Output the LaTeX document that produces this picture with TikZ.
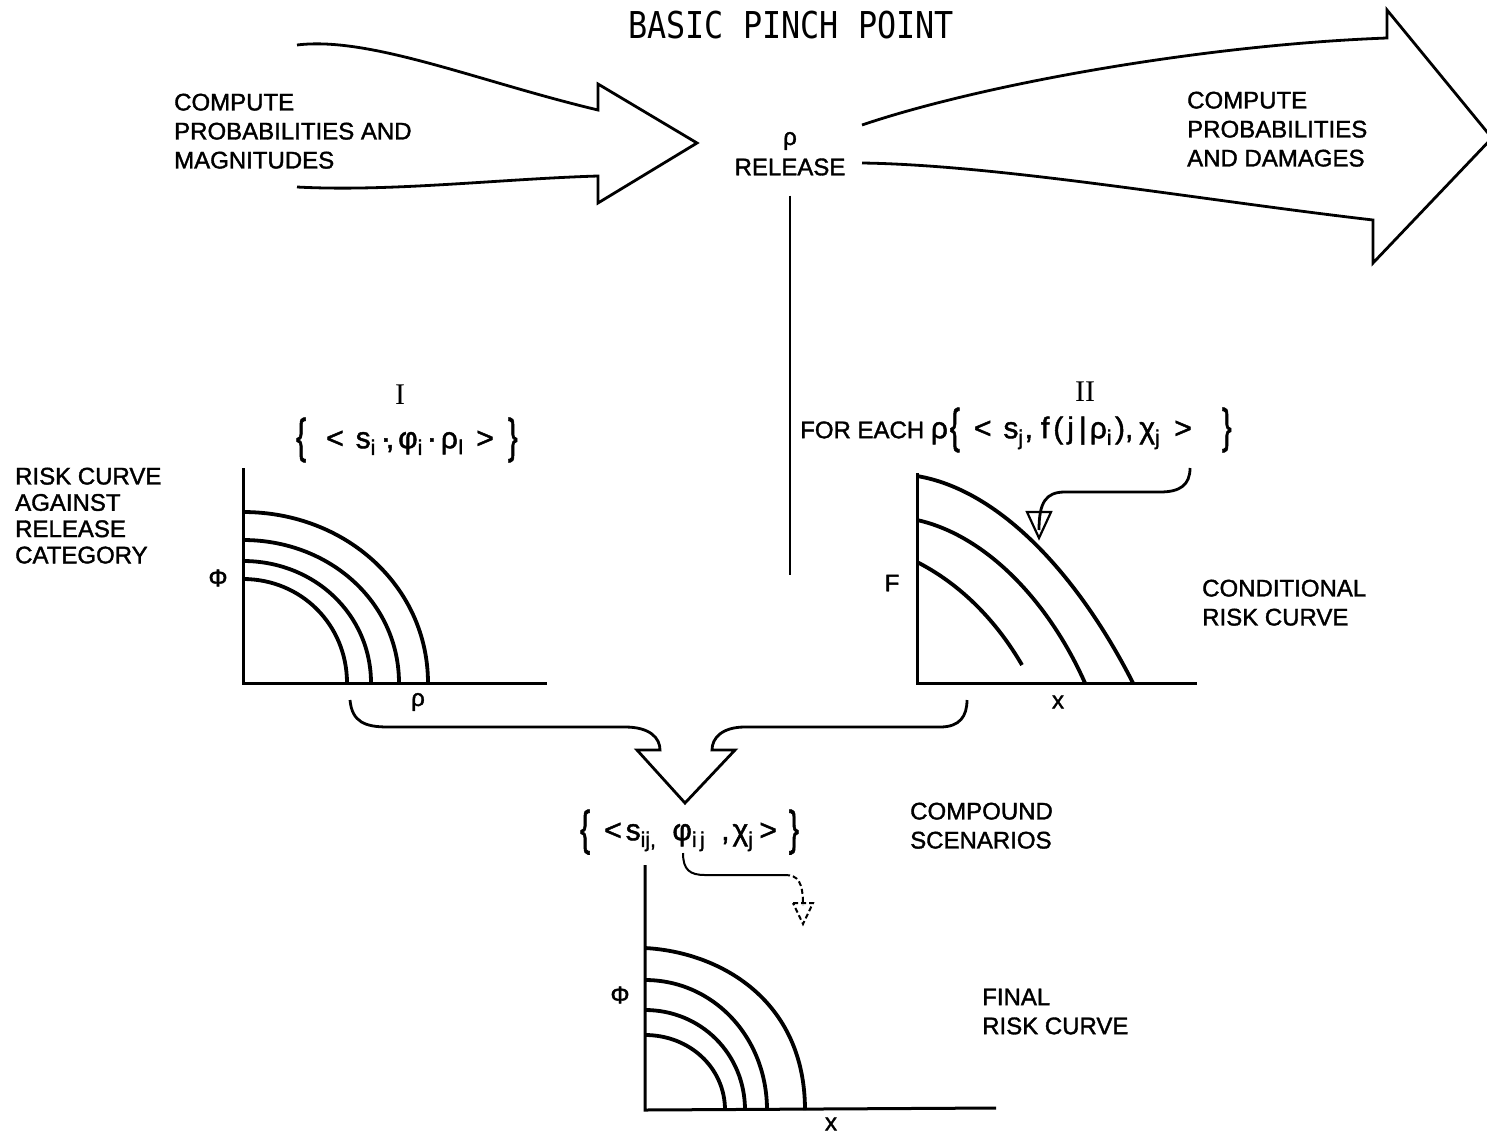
\documentclass[tikz,border=0pt]{standalone}
\usepackage{fontspec}
\usepackage{graphicx}
\setmainfont{Liberation Sans}[BoldFont=Liberation Sans, BoldFeatures={FakeBold=1.5}]
\newfontfamily\titlefont{DejaVu Sans Mono}
\newfontfamily\romfont{Liberation Serif}
\usetikzlibrary{calc}
\newcommand\labsize{\bfseries\fontsize{24}{29}\selectfont}
\newcommand\lbr{\raisebox{-0.14em}{\scalebox{1}[1.6]{\{}}}
\newcommand\rbr{\raisebox{-0.14em}{\scalebox{1}[1.6]{\}}}}
\tikzset{
  lbl/.style={font=\labsize, align=left, anchor=north west, inner sep=0pt},
  setf/.style={font=\bfseries\fontsize{30}{32}\selectfont, inner sep=0pt, anchor=west},
  roman/.style={font=\romfont\fontsize{30}{32}\selectfont, inner sep=0pt},
  axlbl/.style={font=\bfseries\fontsize{24}{26}\selectfont, inner sep=0pt},
  blk/.style={line width=2.8pt, line join=miter},
  rcurve/.style={line width=3.8pt},
  axisline/.style={line width=3pt},
  pointer/.style={line width=2.8pt},
  thinpointer/.style={line width=2pt},
}
\begin{document}
\begin{tikzpicture}[x=1pt,y=-1pt]
\useasboundingbox (0,0) rectangle (1487,1135);
\fill[white] (0,0) rectangle (1487,1135);
\clip (0,0) rectangle (1487,1135);

% title
\node[font=\titlefont\fontsize{37}{40}\selectfont, xscale=0.86, inner sep=0pt] (title) at (791,25) {BASIC PINCH POINT};

% top texts
\node[lbl, font=\bfseries\fontsize{24}{29}\selectfont] (cpm) at (174,93.5) {COMPUTE\\PROBABILITIES AND\\MAGNITUDES};
\node[lbl, font=\bfseries\fontsize{24}{29}\selectfont] (cpd) at (1187,91.5) {COMPUTE\\PROBABILITIES\\AND DAMAGES};
\node[axlbl] (rho) at (790,141) {ρ};
\node[axlbl] (release) at (790,167) {RELEASE};

% left block arrow
\coordinate (la1) at (297,45);
\coordinate (la2) at (598,110);
\coordinate (laT) at (598,84);
\coordinate (laTip) at (697,143);
\coordinate (laB) at (598,203);
\coordinate (la3) at (598,176);
\coordinate (la4) at (297,187);
\draw[blk] (la1) .. controls (370,36) and (480,82) .. (la2) -- (laT) -- (laTip) -- (laB) -- (la3) .. controls (500,179) and (390,192) .. (la4);

% right block arrow
\coordinate (ra1) at (862,125);
\coordinate (ra2) at (1387,38);
\coordinate (raT) at (1387,10);
\coordinate (raTip) at (1492,138);
\coordinate (raB) at (1373,263);
\coordinate (ra3) at (1373,220);
\coordinate (ra4) at (862,163);
\draw[blk] (ra1) .. controls (980,85) and (1200,45) .. (ra2) -- (raT) -- (raTip) -- (raB) -- (ra3) .. controls (1200,200) and (1000,165) .. (ra4);

% vertical line from release
\coordinate (vEnd) at (790,575);
\draw[line width=2.2pt] ($(release.south)+(0,20)$) -- (vEnd);

% set I
\node[roman] (numI) at (400,395) {I};
\node[setf] (setI) at (296,440) {\lbr\hspace{20pt}<\hspace{12pt}s\textsubscript{i}\,·\!,\hspace{4pt}φ\textsubscript{i}\hspace{4pt}·\hspace{4pt}ρ\textsubscript{I}\hspace{12pt}>\hspace{14pt}\rbr};

% set II
\node[roman] (numII) at (1085,392) {II};
\node[setf] (setII) at (800,430) {{\fontsize{24}{29}\selectfont FOR EACH }ρ\hspace{2pt}\lbr\hspace{14pt}<\hspace{12pt}s\textsubscript{j}\hspace{1pt},\hspace{8pt}f\hspace{4pt}(\hspace{4pt}j\hspace{5pt}|\hspace{3pt}ρ\textsubscript{i}\hspace{3pt}),\hspace{6pt}χ\textsubscript{j}\hspace{14pt}>\hspace{30pt}\rbr};

% left label
\node[lbl, font=\bfseries\fontsize{24}{26.3}\selectfont] (rcar) at (15,467.5) {RISK CURVE\\AGAINST\\RELEASE\\CATEGORY};

% chart I
\coordinate (oI) at (243,683);
\draw[axisline] (243,468) -- (oI) -- (547,683);
\foreach \t/\r in {512/428,540/399,561/371,579/347}{
  \pgfmathsetmacro\rx{\r-243}
  \pgfmathsetmacro\ry{683-\t}
  \draw[rcurve] (243,\t) .. controls ({243+0.56*\rx},\t) and (\r,{683-0.56*\ry}) .. (\r,683);
}
\node[axlbl] (phiI) at (218,578) {Φ};
\node[axlbl] (rhoI) at (418,702) {ρ};

% chart II
\coordinate (oII) at (917,683);
\draw[axisline] (917,473) -- (oII) -- (1197,683);
\draw[rcurve] (917,476) .. controls (1000,490) and (1078,575) .. (1133,683);
\draw[rcurve] (917,520) .. controls (985,535) and (1048,600) .. (1085,683);
\draw[rcurve] (917,562) .. controls (962,585) and (997,622) .. (1022,665);
\node[axlbl] (FII) at (892,583) {F};
\node[axlbl] (xII) at (1058,702) {x};
\node[lbl] (cond) at (1202,579.5) {CONDITIONAL\\RISK CURVE};

% pointer in chart II
\coordinate (p2s) at (1190,468);
\coordinate (p2e) at (1039,530);
\draw[pointer] (p2s) .. controls (1190,485) and (1180,492) .. (1160,492) -- (1065,492) .. controls (1046,492) and (1039,502) .. (p2e);
\draw[line width=2.2pt, line join=miter] (1027,512) -- (1051,512) -- (1039,538) -- cycle;

% merge arrow
\coordinate (mL) at (350,700);
\coordinate (mR) at (967,700);
\coordinate (mTip) at (685,803);
\draw[blk] (mL) .. controls (352,722) and (365,727) .. (388,727) -- (625,727) .. controls (650,727) and (660,738) .. (660,750) -- (637,750) -- (mTip) -- (735,750) -- (712,750) .. controls (712,738) and (722,727) .. (745,727) -- (940,727) .. controls (960,727) and (967,716) .. (mR);

% compound
\node[setf] (comp) at (580,832) {\lbr\hspace{14pt}<\hspace{4pt}s\textsubscript{ij,}\hspace{16pt}φ\textsubscript{i\,j}\hspace{16pt},\hspace{3pt}χ\textsubscript{j}\hspace{6pt}>\hspace{12pt}\rbr};
\node[lbl] (compl) at (910,802.5) {COMPOUND\\SCENARIOS};

% small pointer
\coordinate (p3s) at (683,853);
\coordinate (p3m) at (785,875);
\coordinate (p3e) at (803,905);
\draw[thinpointer] (p3s) .. controls (683,870) and (690,875) .. (705,875) -- (p3m);
\draw[thinpointer, dash pattern=on 5pt off 3pt] (p3m) .. controls (798,875) and (803,882) .. (p3e);
\draw[thinpointer, dash pattern=on 5pt off 3pt] (793,903) -- (813,903) -- (803,924) -- cycle;

% chart III
\coordinate (oIII) at (645,1110);
\draw[axisline] (645,865) -- (oIII) -- (996,1108);
\draw[rcurve] (645,948) .. controls (720,952) and (805,1000) .. (805,1110);
\foreach \t/\r in {980/767,1010/745,1035/725}{
  \pgfmathsetmacro\rx{\r-645}
  \pgfmathsetmacro\ry{1110-\t}
  \draw[rcurve] (645,\t) .. controls ({645+0.56*\rx},\t) and (\r,{1110-0.56*\ry}) .. (\r,1110);
}
\node[axlbl] (phiIII) at (620,995) {Φ};
\node[axlbl] (xIII) at (831,1124) {x};
\node[lbl] (final) at (982,988.5) {FINAL\\RISK CURVE};
\end{tikzpicture}
\end{document}
